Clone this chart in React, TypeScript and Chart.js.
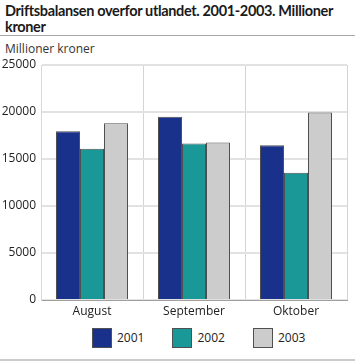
import React, { useEffect, useRef } from "react";
import { Chart, registerables } from "chart.js";

Chart.register(...registerables);

const titleLines = ["Driftsbalansen overfor utlandet. 2001-2003. Millioner", "kroner"];
const unitLabel = "Millioner kroner";
const categories = ["August", "September", "Oktober"];
const seriesLabels = ["2001", "2002", "2003"];
const values2001 = [17950, 19500, 16450];
const values2002 = [16100, 16650, 13550];
const values2003 = [18800, 16750, 19950];
const yTicks = [0, 5000, 10000, 15000, 20000, 25000];
const seriesColors = ["#1a318c", "#1a9797", "#cccccc"];

const FONT = "'Open Sans', 'Noto Sans', sans-serif";
const TITLE_FONT = "Lato, 'Open Sans', sans-serif";

export default function App() {
  const canvasRef = useRef<HTMLCanvasElement | null>(null);

  useEffect(() => {
    document.body.style.margin = "0";
    const canvas = canvasRef.current;
    if (!canvas) return;
    const seriesValues = [values2001, values2002, values2003];
    const chart = new Chart(canvas, {
      type: "bar",
      data: {
        labels: categories,
        datasets: seriesLabels.map((label, i) => ({
          label,
          data: seriesValues[i],
          backgroundColor: seriesColors[i],
          borderColor: "#505050",
          borderWidth: 1,
          categoryPercentage: 0.706,
          barPercentage: 1,
        })),
      },
      options: {
        animation: false,
        responsive: false,
        devicePixelRatio: 1,
        layout: { padding: { top: 65, left: 0, right: 8, bottom: 3 } },
        plugins: {
          legend: { display: false },
          tooltip: { enabled: false },
          title: { display: false },
        },
        scales: {
          x: {
            grid: { color: "#d4d4d4", lineWidth: 1, drawTicks: false, offset: true },
            border: { color: "#a0a0a0", width: 1 },
            ticks: { font: { family: FONT, size: 12 }, color: "#222", padding: 4 },
            afterFit: (scale: any) => {
              scale.height = 22;
            },
          },
          y: {
            min: 0,
            max: 25000,
            grid: { color: "#e2e2e2", lineWidth: 2, drawTicks: false },
            border: { color: "#d8d8d8", width: 1 },
            ticks: {
              font: { family: FONT, size: 12 },
              color: "#222",
              padding: 5,
              callback: (v: any) => String(v),
            },
            afterBuildTicks: (scale: any) => {
              scale.ticks = yTicks.map((v) => ({ value: v }));
            },
            afterFit: (scale: any) => {
              scale.width = 41;
            },
          },
        },
      },
    });
    return () => chart.destroy();
  }, []);

  return (
    <div style={{ position: "relative", width: 355, height: 362, background: "#fff", fontFamily: FONT, overflow: "hidden" }}>
      <div
        style={{
          position: "absolute",
          left: 5,
          top: 3,
          fontFamily: TITLE_FONT,
          fontWeight: 700,
          fontSize: 14.5,
          letterSpacing: -0.35,
          lineHeight: "16px",
          color: "#1a1a1a",
          whiteSpace: "nowrap",
        }}
      >
        {titleLines.map((line) => (
          <div key={line}>{line}</div>
        ))}
      </div>
      <div style={{ position: "absolute", left: 0, top: 35, width: 355, height: 1, background: "#a8a8a8" }} />
      <div style={{ position: "absolute", left: 5, top: 40, fontSize: 12, color: "#333" }}>{unitLabel}</div>
      <canvas ref={canvasRef} width={355} height={325} style={{ position: "absolute", left: 0, top: 0 }} />
      <div
        style={{
          position: "absolute",
          left: 92,
          top: 328,
          display: "flex",
          alignItems: "center",
          gap: 28,
          fontSize: 12,
          color: "#222",
        }}
      >
        {seriesLabels.map((label, i) => (
          <div key={label} style={{ display: "flex", alignItems: "center" }}>
            <span
              style={{
                display: "inline-block",
                width: 18,
                height: 18,
                background: seriesColors[i],
                border: "1px solid #505050",
                marginRight: 5,
              }}
            />
            <span style={{ lineHeight: "20px" }}>{label}</span>
          </div>
        ))}
      </div>
      <div style={{ position: "absolute", left: 0, top: 359, width: 355, height: 2, background: "#cccccc" }} />
    </div>
  );
}
